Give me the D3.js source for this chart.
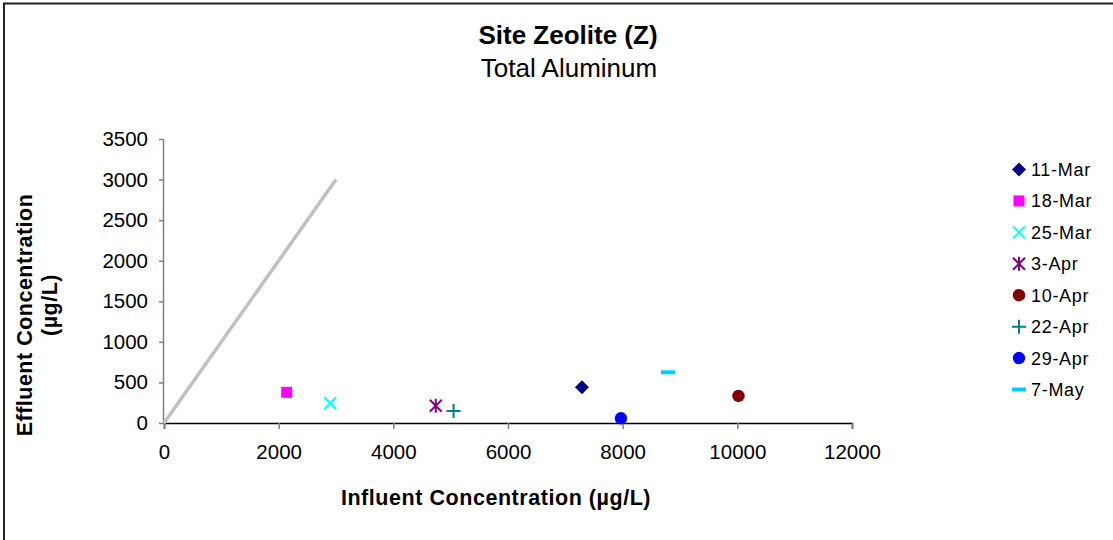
<!DOCTYPE html>
<html><head><meta charset="utf-8">
<script src="https://cdn.jsdelivr.net/npm/d3@7"></script>
<style>
html,body{margin:0;padding:0;background:#fff;}
svg{display:block;font-family:"Liberation Sans",Arial,sans-serif;}
</style></head>
<body>
<svg id="chart" width="1113" height="540"></svg>
<script>
// ---- data ----
const dates = ["11-Mar","18-Mar","25-Mar","3-Apr","10-Apr","22-Apr","29-Apr","7-May"];
const influent = [7290, 2140, 2900, 4740, 10020, 5050, 7970, 8790];
const effluent = [440, 378, 243, 213, 333, 148, 58, 625];
const colors = ["#000080","#FF00FF","#00FFFF","#800080","#800000","#008080","#0000FF","#00CCFF"];
const shapes = ["diamond","square","x","asterisk","circle","plus","circle","dash"];
const refLineX = [0, 3000];
const refLineY = [0, 3000];
const xTicks = [0,2000,4000,6000,8000,10000,12000];
const yTicks = [0,500,1000,1500,2000,2500,3000,3500];
const titleText = "Site Zeolite (Z)";
const subtitleText = "Total Aluminum";
const xTitle = "Influent Concentration (µg/L)";
const yTitle1 = "Effluent Concentration";
const yTitle2 = "(µg/L)";

const svg = d3.select("#chart");
const x = d3.scaleLinear().domain([0,12000]).range([164,852]);
const y = d3.scaleLinear().domain([0,3500]).range([423,139]);

// border (top & left only visible)
svg.append("path").attr("d","M4,544 L4,3.5 L1120,3.5").attr("fill","none").attr("stroke","#222").attr("stroke-width",2);

// titles
svg.append("text").attr("x",568).attr("y",44).attr("text-anchor","middle")
  .attr("font-size",26).attr("font-weight","bold").text(titleText);
svg.append("text").attr("x",569).attr("y",77).attr("text-anchor","middle")
  .attr("font-size",26).text(subtitleText);

// axes
const xAxis = d3.axisBottom(x).tickValues(xTicks).tickSize(6).tickPadding(15).tickFormat(d3.format("d"));
const gx = svg.append("g").attr("transform","translate(0,423)").call(xAxis);
gx.select(".domain").attr("stroke","#000").attr("stroke-width",1.5);
gx.selectAll(".tick line").attr("stroke","#808080").attr("stroke-width",1.5);
gx.selectAll(".tick text").attr("font-size",20.5).attr("fill","#000").attr("font-family","Liberation Sans, Arial, sans-serif");

const yAxis = d3.axisLeft(y).tickValues(yTicks).tickSize(5).tickPadding(11).tickFormat(d3.format("d"));
const gy = svg.append("g").attr("transform","translate(164,0)").call(yAxis);
gy.select(".domain").attr("stroke","#808080").attr("stroke-width",1.5).attr("d","M-0.5,139V423");
gy.selectAll(".tick line").attr("stroke","#808080").attr("stroke-width",1.5);
gy.selectAll(".tick text").attr("font-size",20.5).attr("fill","#000").attr("font-family","Liberation Sans, Arial, sans-serif");

// reference line
svg.append("line").attr("x1",x(refLineX[0])).attr("y1",y(refLineY[0]))
  .attr("x2",x(refLineX[1])).attr("y2",y(refLineY[1]))
  .attr("stroke","#C0C0C0").attr("stroke-width",3.5);

// axis titles
svg.append("text").attr("x",496).attr("y",505).attr("text-anchor","middle")
  .attr("font-size",21.5).attr("font-weight","bold").attr("letter-spacing",0.55).text(xTitle);
svg.append("text").attr("transform","translate(32,315) rotate(-90)").attr("text-anchor","middle")
  .attr("font-size",21.5).attr("font-weight","bold").attr("letter-spacing",0.5).text(yTitle1);
svg.append("text").attr("transform","translate(57,305) rotate(-90)").attr("text-anchor","middle")
  .attr("font-size",21.5).attr("font-weight","bold").attr("letter-spacing",0.5).text(yTitle2);

// marker drawing
function drawMarker(g, shape, color){
  switch(shape){
    case "diamond": g.append("path").attr("d","M0,-7L7,0L0,7L-7,0Z").attr("fill",color); break;
    case "square": g.append("rect").attr("x",-5.5).attr("y",-5.5).attr("width",11).attr("height",11).attr("fill",color); break;
    case "x": g.append("path").attr("d","M-6,-6L6,6M-6,6L6,-6").attr("stroke",color).attr("stroke-width",2).attr("fill","none"); break;
    case "asterisk": g.append("path").attr("d","M-6,-6L6,6M-6,6L6,-6M0,-7L0,7").attr("stroke",color).attr("stroke-width",2).attr("fill","none"); break;
    case "circle": g.append("circle").attr("r",6.2).attr("fill",color); break;
    case "plus": g.append("path").attr("d","M-7,0L7,0M0,-7L0,7").attr("stroke",color).attr("stroke-width",2).attr("fill","none"); break;
    case "dash": g.append("rect").attr("x",-7).attr("y",-2).attr("width",14).attr("height",4).attr("fill",color); break;
  }
}

// points
dates.forEach((d,i)=>{
  const g = svg.append("g").attr("transform",`translate(${x(influent[i])},${y(effluent[i])})`);
  drawMarker(g, shapes[i], colors[i]);
});

// legend
const legY = d3.scalePoint().domain(dates).range([169.5,389.5]);
dates.forEach((d,i)=>{
  const g = svg.append("g").attr("transform",`translate(1019,${legY(d)})`);
  drawMarker(g, shapes[i], colors[i]);
  svg.append("text").attr("x",1031).attr("y",legY(d)).attr("dy","0.36em")
    .attr("font-size",18).attr("letter-spacing",0.7).text(d);
});
</script>
</body></html>
